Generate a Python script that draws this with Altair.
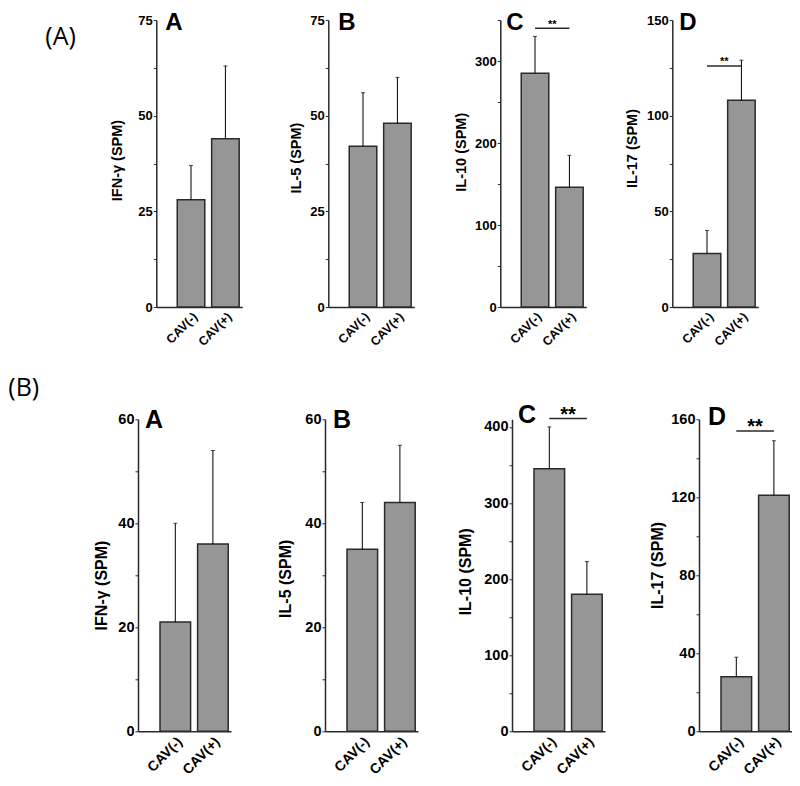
import altair as alt
import pandas as pd

CATS = ["CAV(-)", "CAV(+)"]
TITLES = ["IFN-γ (SPM)", "IL-5 (SPM)", "IL-10 (SPM)", "IL-17 (SPM)"]
LETTERS = ["A", "B", "C", "D"]
SIG_LABEL = "**"
ROW_LABELS = ["(A)", "(B)"]

# Row (A)
A_IFN_MEAN = [28, 44]
A_IFN_TOP = [37, 63]
A_IL5_MEAN = [42, 48]
A_IL5_TOP = [56, 60]
A_IL10_MEAN = [285, 146]
A_IL10_TOP = [330, 185]
A_IL17_MEAN = [28, 108]
A_IL17_TOP = [40, 129]
A_YMAX = [75, 75, 350, 150]
A_MAJOR = [25, 25, 100, 50]
A_MINOR = [12.5, 12.5, 50, 25]
A_SIG = [None, None, 340, 126]

# Row (B)
B_IFN_MEAN = [21, 36]
B_IFN_TOP = [40, 54]
B_IL5_MEAN = [35, 44]
B_IL5_TOP = [44, 55]
B_IL10_MEAN = [345, 180]
B_IL10_TOP = [400, 223]
B_IL17_MEAN = [28, 121]
B_IL17_TOP = [38, 149]
B_YMAX = [60, 60, 410, 160]
B_MAJOR = [20, 20, 100, 40]
B_MINOR = [10, 10, 50, 20]
B_SIG = [None, None, 411, 154]

FONT = "Liberation Sans"
ROWFONT = "Open Sans"
DARK = "#2a2a2a"
GRAY = "#969696"

STY_A = dict(w=86, h=287, pi=0.2, po=0.35, align=0.87, yfs=13, tfs=14.5, xfs=12.5,
             xpad=3, extents=[31.75, 24.75, 32.25, 32.75], titley=[140, 137.5, 131.7, 128],
             step=34.5, letters=[(9, 10), (10, 10), (6, 10), (7, 10)], letterfs=24,
             sigfs=11, sigdy=[0, 0, 0, -1], spacing=86)
STY_B = dict(w=93, h=312, pi=0.186, po=0.33, align=0.887, yfs=14.5, tfs=16, xfs=14,
             xpad=3, extents=[28.7, 32, 39, 34], titley=[165.7, 159, 152, 145.7],
             step=37.6, letters=[(7, 9), (8, 9), (6, 4), (9, 6)], letterfs=25,
             sigfs=20, sigdy=[0, 0, 2, 2], spacing=94)


def tick_values(ymax, minor):
    vals = []
    v = 0.0
    while v <= ymax + 1e-9:
        vals.append(v)
        v += minor
    return vals


def label_chart(txt, ex, ey, w, h, top_room=None):
    lab = alt.Chart(pd.DataFrame({"t": [txt]})).mark_text(
        font=ROWFONT, fontSize=25, align="left", baseline="alphabetic", color="black"
    ).encode(text="t:N", x=alt.value(ex), y=alt.value(ey))
    if top_room is None:
        return lab.properties(width=w, height=h)
    # invisible rule that reserves a little room above the panels
    room = alt.Chart(pd.DataFrame({"t": [txt]})).mark_rule(opacity=0, strokeWidth=1).encode(
        x=alt.value(0), y=alt.value(top_room), y2=alt.value(0))
    return alt.layer(lab, room).properties(width=w, height=h)


def panel(i, mean, top, ymax, major, minor, sig, sty):
    df = pd.DataFrame({"cat": CATS, "val": mean, "top": top})
    xscale = alt.Scale(domain=CATS, paddingInner=sty["pi"], paddingOuter=sty["po"], align=sty["align"])
    xaxis = alt.Axis(title=None, labelAngle=-45, ticks=False, domainColor=DARK, domainWidth=1.5,
                     labelFont=FONT, labelFontWeight="bold", labelFontSize=sty["xfs"],
                     labelColor="black", labelPadding=sty["xpad"])
    yscale = alt.Scale(domain=[0, ymax], nice=False, zero=True)
    e = sty["extents"][i]
    yaxis = alt.Axis(title=TITLES[i], values=tick_values(ymax, minor),
                     labelExpr=f"datum.value % {major} === 0 ? datum.label : ''",
                     grid=False, tickSize=3, tickColor=DARK, tickWidth=1, domainColor=DARK, domainWidth=1.5,
                     labelFont=FONT, labelFontWeight="bold", labelFontSize=sty["yfs"], labelColor="black",
                     labelPadding=1, titleFont=FONT, titleFontWeight="bold", titleFontSize=sty["tfs"],
                     titleColor="black", titlePadding=0, titleY=sty["titley"][i],
                     minExtent=e, maxExtent=e)

    def X(f):
        return alt.X(f"{f}:N", scale=xscale, sort=CATS, axis=xaxis)

    def Y(f):
        return alt.Y(f"{f}:Q", scale=yscale, axis=yaxis)

    base = alt.Chart(df)
    layers = [
        base.mark_bar(fill=GRAY, stroke=DARK, strokeWidth=1.5).encode(x=X("cat"), y=Y("val")),
        base.mark_rule(color="black", strokeWidth=1).encode(x=X("cat"), y=Y("val"), y2="top:Q"),
        base.mark_tick(color="black", thickness=1, size=4).encode(x=X("cat"), y=Y("top")),
    ]
    if sig is not None:
        sdf = pd.DataFrame({"cat": [CATS[0]], "cat2": [CATS[1]], "val": [sig], "lab": [SIG_LABEL]})
        sbase = alt.Chart(sdf)
        layers.append(sbase.mark_rule(color=DARK, strokeWidth=1.5).encode(x=X("cat"), x2="cat2:N", y=Y("val")))
        layers.append(sbase.mark_text(font=FONT, fontWeight="bold", fontSize=sty["sigfs"], align="center",
                                      baseline="alphabetic", dx=sty["step"] / 2, dy=sty["sigdy"][i],
                                      color="black").encode(x=X("cat"), y=Y("val"), text="lab:N"))
    lx, ly = sty["letters"][i]
    layers.append(alt.Chart(pd.DataFrame({"t": [LETTERS[i]]})).mark_text(
        font=FONT, fontWeight="bold", fontSize=sty["letterfs"], align="left", baseline="alphabetic", color="black"
    ).encode(text="t:N", x=alt.value(lx), y=alt.value(ly)))
    return alt.layer(*layers).properties(width=sty["w"], height=sty["h"])


rowA_data = [(A_IFN_MEAN, A_IFN_TOP), (A_IL5_MEAN, A_IL5_TOP), (A_IL10_MEAN, A_IL10_TOP), (A_IL17_MEAN, A_IL17_TOP)]
rowB_data = [(B_IFN_MEAN, B_IFN_TOP), (B_IL5_MEAN, B_IL5_TOP), (B_IL10_MEAN, B_IL10_TOP), (B_IL17_MEAN, B_IL17_TOP)]

panelsA = [panel(i, m, t, A_YMAX[i], A_MAJOR[i], A_MINOR[i], A_SIG[i], STY_A) for i, (m, t) in enumerate(rowA_data)]
panelsB = [panel(i, m, t, B_YMAX[i], B_MAJOR[i], B_MINOR[i], B_SIG[i], STY_B) for i, (m, t) in enumerate(rowB_data)]

# row (A): a 1px label column, then the four panels (shifted right relative to row (B))
spacerA = label_chart(ROW_LABELS[0], -91.7, 25, 1, STY_A["h"], top_room=-11.5)
rowA = alt.hconcat(spacerA, alt.hconcat(*panelsA, spacing=STY_A["spacing"], bounds="flush"),
                   spacing=18.3, bounds="flush")

spacerB = label_chart(ROW_LABELS[1], -128.7, -23, 1, STY_B["h"])
rowB = alt.hconcat(spacerB, alt.hconcat(*panelsB, spacing=STY_B["spacing"], bounds="flush"),
                   spacing=0, bounds="flush")

chart = alt.vconcat(rowA, rowB, spacing=28.3).configure_view(stroke=None).properties(
    padding={"left": 0, "top": 0, "right": 0, "bottom": 0}, background="white")

chart.save("out.html", embed_options={"renderer": "svg", "actions": False})
